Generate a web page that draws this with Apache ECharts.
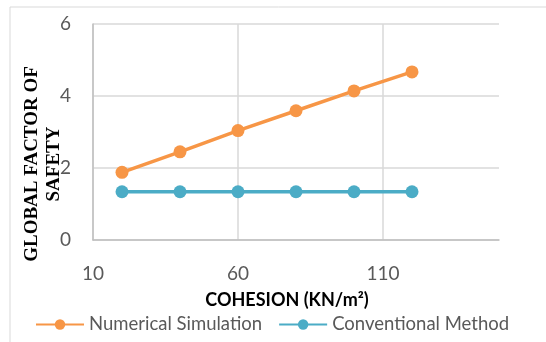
<!DOCTYPE html>
<html>
<head>
<meta charset="utf-8">
<script src="https://cdn.jsdelivr.net/npm/echarts@6/dist/echarts.min.js"></script>
<style>
  html, body { margin: 0; padding: 0; background: #fff; }
  #safetyChart { width: 546px; height: 342px; }
</style>
</head>
<body>
<div id="safetyChart"></div>
<script>
// cohesion values (KN/m2) and factor of safety for each method
var cohesion = [20, 40, 60, 80, 100, 120];
var numericalSimulation = [1.88, 2.45, 3.04, 3.59, 4.14, 4.67];
var conventionalMethod = [1.34, 1.34, 1.34, 1.34, 1.34, 1.34];
var seriesNames = ["Numerical Simulation", "Conventional Method"];

function pairs(xs, ys) {
  return xs.map(function (x, i) { return [x, ys[i]]; });
}

var chartDom = document.getElementById("safetyChart");
var myChart = echarts.init(chartDom);
var labelFont = "Lato, 'Open Sans', sans-serif";

var option = {
  color: ["#f79646", "#4bacc6"],
  animation: false,
  grid: { left: 93, right: 47, top: 24, bottom: 102 },
  legend: {
    data: seriesNames,
    bottom: 3,
    left: 30,
    itemWidth: 48,
    itemHeight: 13,
    itemGap: 16,
    textStyle: { fontFamily: labelFont, fontSize: 18.5, color: "#595959" }
  },
  graphic: [
    {
      type: "rect",
      shape: { x: 10, y: 7, width: 600, height: 400 },
      style: { fill: null, stroke: "#d9d9d9", lineWidth: 1 },
      silent: true
    },
    {
      type: "text",
      x: 43,
      y: 164,
      rotation: Math.PI / 2,
      style: {
        text: "GLOBAL FACTOR OF\nSAFETY",
        font: "bold 19px 'Liberation Serif', 'DejaVu Serif', serif",
        fill: "#000",
        align: "center",
        verticalAlign: "middle",
        lineHeight: 22
      }
    },
    {
      type: "text",
      x: 287,
      y: 300,
      style: {
        text: "COHESION (KN/m²)",
        font: "bold 18px " + labelFont,
        fill: "#000",
        align: "center",
        verticalAlign: "middle"
      }
    }
  ],
  xAxis: {
    type: "value",
    min: 10,
    max: 150,
    interval: 50,
    axisLine: { show: true, lineStyle: { color: "#bfbfbf", width: 1.5 } },
    axisTick: { show: false },
    axisLabel: {
      showMaxLabel: false,
      margin: 24,
      fontFamily: labelFont,
      fontSize: 19,
      color: "#595959"
    },
    splitLine: { show: true, showMaxLine: false, lineStyle: { color: "#d9d9d9", width: 1.5 } }
  },
  yAxis: {
    type: "value",
    min: 0,
    max: 6,
    interval: 2,
    axisLine: { show: true, lineStyle: { color: "#bfbfbf", width: 1.5 } },
    axisTick: { show: false },
    axisLabel: {
      margin: 22,
      fontFamily: labelFont,
      fontSize: 19,
      color: "#595959"
    },
    splitLine: { show: true, lineStyle: { color: "#d9d9d9", width: 1.5 } }
  },
  series: [
    {
      name: seriesNames[0],
      type: "line",
      data: pairs(cohesion, numericalSimulation),
      symbol: "circle",
      symbolSize: 13,
      lineStyle: { width: 3.5 }
    },
    {
      name: seriesNames[1],
      type: "line",
      data: pairs(cohesion, conventionalMethod),
      symbol: "circle",
      symbolSize: 13,
      lineStyle: { width: 3.5 }
    }
  ]
};

option && myChart.setOption(option);
</script>
</body>
</html>
